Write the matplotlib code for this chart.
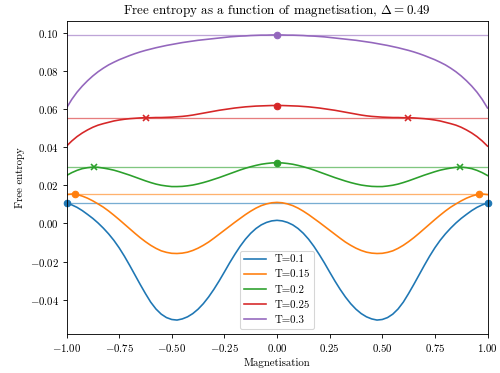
import numpy as np
import matplotlib
matplotlib.use("Agg")
import matplotlib.pyplot as plt

plt.rcParams['font.family'] = 'serif'
plt.rcParams['font.serif'] = ['cmr10']
plt.rcParams['mathtext.fontset'] = 'cm'
plt.rcParams['axes.formatter.use_mathtext'] = True

# magnetisation grid (-1 .. 1, step 0.025)
m = np.linspace(-1, 1, 81)

labels = ["T=0.1", "T=0.15", "T=0.2", "T=0.25", "T=0.3"]

phi_01 = [0.0107, 0.0097, 0.0084, 0.0067, 0.0047, 0.0026, 0.0002, -0.0025, -0.0055, -0.0089,
          -0.0128, -0.0172, -0.0220, -0.0270, -0.0320, -0.0368, -0.0413, -0.0449, -0.0476, -0.0494,
          -0.0504, -0.0507, -0.0501, -0.0490, -0.0473, -0.0450, -0.0421, -0.0386, -0.0346, -0.0302,
          -0.0255, -0.0207, -0.0162, -0.0120, -0.0083, -0.0052, -0.0027, -0.0008, 0.0005, 0.0013,
          0.0016,
          0.0013, 0.0005, -0.0008, -0.0027, -0.0052, -0.0083, -0.0120, -0.0162, -0.0207, -0.0255,
          -0.0302, -0.0346, -0.0386, -0.0421, -0.0450, -0.0473, -0.0490, -0.0501, -0.0507, -0.0504,
          -0.0494, -0.0476, -0.0449, -0.0413, -0.0368, -0.0320, -0.0270, -0.0220, -0.0172, -0.0128,
          -0.0089, -0.0055, -0.0025, 0.0002, 0.0026, 0.0047, 0.0067, 0.0084, 0.0097, 0.0107]
phi_015 = [0.0151, 0.0154, 0.0151, 0.0143, 0.0132, 0.0118, 0.0102, 0.0085, 0.0065, 0.0043,
           0.0020, -0.0004, -0.0028, -0.0052, -0.0075, -0.0096, -0.0115, -0.0131, -0.0144, -0.0152,
           -0.0157, -0.0158, -0.0156, -0.0151, -0.0142, -0.0130, -0.0115, -0.0098, -0.0078, -0.0057,
           -0.0036, -0.0015, 0.0006, 0.0026, 0.0046, 0.0064, 0.0080, 0.0093, 0.0102, 0.0108,
           0.0110,
           0.0108, 0.0102, 0.0093, 0.0080, 0.0064, 0.0046, 0.0026, 0.0006, -0.0015, -0.0036,
           -0.0057, -0.0078, -0.0098, -0.0115, -0.0130, -0.0142, -0.0151, -0.0156, -0.0158, -0.0157,
           -0.0152, -0.0144, -0.0131, -0.0115, -0.0096, -0.0075, -0.0052, -0.0028, -0.0004, 0.0020,
           0.0043, 0.0065, 0.0085, 0.0102, 0.0118, 0.0132, 0.0143, 0.0151, 0.0154, 0.0151]
phi_02 = [0.0251, 0.0266, 0.0278, 0.0287, 0.0292, 0.0295, 0.0294, 0.0290, 0.0285, 0.0279,
          0.0271, 0.0262, 0.0253, 0.0243, 0.0233, 0.0223, 0.0214, 0.0206, 0.0200, 0.0196,
          0.0193, 0.0193, 0.0194, 0.0197, 0.0201, 0.0207, 0.0214, 0.0222, 0.0231, 0.0240,
          0.0250, 0.0260, 0.0270, 0.0280, 0.0289, 0.0297, 0.0304, 0.0310, 0.0314, 0.0317,
          0.0318,
          0.0317, 0.0314, 0.0310, 0.0304, 0.0297, 0.0289, 0.0280, 0.0270, 0.0260, 0.0250,
          0.0240, 0.0231, 0.0222, 0.0214, 0.0207, 0.0201, 0.0197, 0.0194, 0.0193, 0.0193,
          0.0196, 0.0200, 0.0206, 0.0214, 0.0223, 0.0233, 0.0243, 0.0253, 0.0262, 0.0271,
          0.0279, 0.0285, 0.0290, 0.0294, 0.0295, 0.0292, 0.0287, 0.0278, 0.0266, 0.0251]
phi_025 = [0.0405, 0.0432, 0.0455, 0.0474, 0.0490, 0.0504, 0.0515, 0.0523, 0.0530, 0.0537,
           0.0542, 0.0546, 0.0549, 0.0551, 0.0553, 0.0554, 0.0554, 0.0555, 0.0555, 0.0556,
           0.0557, 0.0559, 0.0561, 0.0564, 0.0568, 0.0573, 0.0578, 0.0583, 0.0588, 0.0593,
           0.0597, 0.0601, 0.0605, 0.0608, 0.0611, 0.0613, 0.0615, 0.0616, 0.0617, 0.0618,
           0.0618,
           0.0618, 0.0617, 0.0616, 0.0615, 0.0613, 0.0611, 0.0608, 0.0605, 0.0601, 0.0597,
           0.0593, 0.0588, 0.0583, 0.0578, 0.0573, 0.0568, 0.0564, 0.0561, 0.0559, 0.0557,
           0.0556, 0.0555, 0.0555, 0.0554, 0.0554, 0.0553, 0.0551, 0.0549, 0.0546, 0.0542,
           0.0537, 0.0530, 0.0523, 0.0515, 0.0504, 0.0490, 0.0474, 0.0455, 0.0432, 0.0405]
phi_03 = [0.0605, 0.0650, 0.0688, 0.0720, 0.0748, 0.0773, 0.0795, 0.0814, 0.0831, 0.0845,
          0.0858, 0.0869, 0.0880, 0.0890, 0.0899, 0.0907, 0.0914, 0.0921, 0.0927, 0.0933,
          0.0938, 0.0943, 0.0948, 0.0952, 0.0956, 0.0960, 0.0963, 0.0966, 0.0969, 0.0972,
          0.0975, 0.0978, 0.0980, 0.0982, 0.0983, 0.0985, 0.0986, 0.0987, 0.0987, 0.0988,
          0.0988,
          0.0988, 0.0987, 0.0987, 0.0986, 0.0985, 0.0983, 0.0982, 0.0980, 0.0978, 0.0975,
          0.0972, 0.0969, 0.0966, 0.0963, 0.0960, 0.0956, 0.0952, 0.0948, 0.0943, 0.0938,
          0.0933, 0.0927, 0.0921, 0.0914, 0.0907, 0.0899, 0.0890, 0.0880, 0.0869, 0.0858,
          0.0845, 0.0831, 0.0814, 0.0795, 0.0773, 0.0748, 0.0720, 0.0688, 0.0650, 0.0605]
curves = [phi_01, phi_015, phi_02, phi_025, phi_03]

# level of the horizontal reference line for each T
levels = [0.0107, 0.0154, 0.0295, 0.0554, 0.0988]

# global maxima (dots) and secondary maxima (crosses)
max_m = [[-1.0, 1.0], [-0.96, 0.96], [0.0], [0.0], [0.0]]
max_phi = [[0.0107, 0.0107], [0.0154, 0.0154], [0.0318], [0.0618], [0.0988]]
loc_m = [[], [], [-0.87, 0.87], [-0.62, 0.62], []]
loc_phi = [[], [], [0.0295, 0.0295], [0.0554, 0.0554], []]

colors = ['C0', 'C1', 'C2', 'C3', 'C4']

fig = plt.figure(figsize=(6.4, 4.7744), dpi=78.125)
ax = fig.add_axes([0.133, 0.1037, 0.842, 0.8408])

for i in range(len(curves)):
    ax.plot(m, curves[i], color=colors[i], label=labels[i])
    ax.axhline(levels[i], color=colors[i], lw=1.2, alpha=0.6)
    ax.plot(max_m[i], max_phi[i], 'o', color=colors[i], ms=6, clip_on=False)
    if loc_m[i]:
        ax.plot(loc_m[i], loc_phi[i], 'x', color=colors[i], ms=6, mew=1.5)

ax.set_xlim(-1, 1)
ax.set_xlabel("Magnetisation")
ax.set_ylabel("Free entropy")
ax.set_title(r"Free entropy as a function of magnetisation, $\Delta = 0.49$")
ax.legend(loc='lower center')

fig.savefig("out.png", dpi=78.125)
